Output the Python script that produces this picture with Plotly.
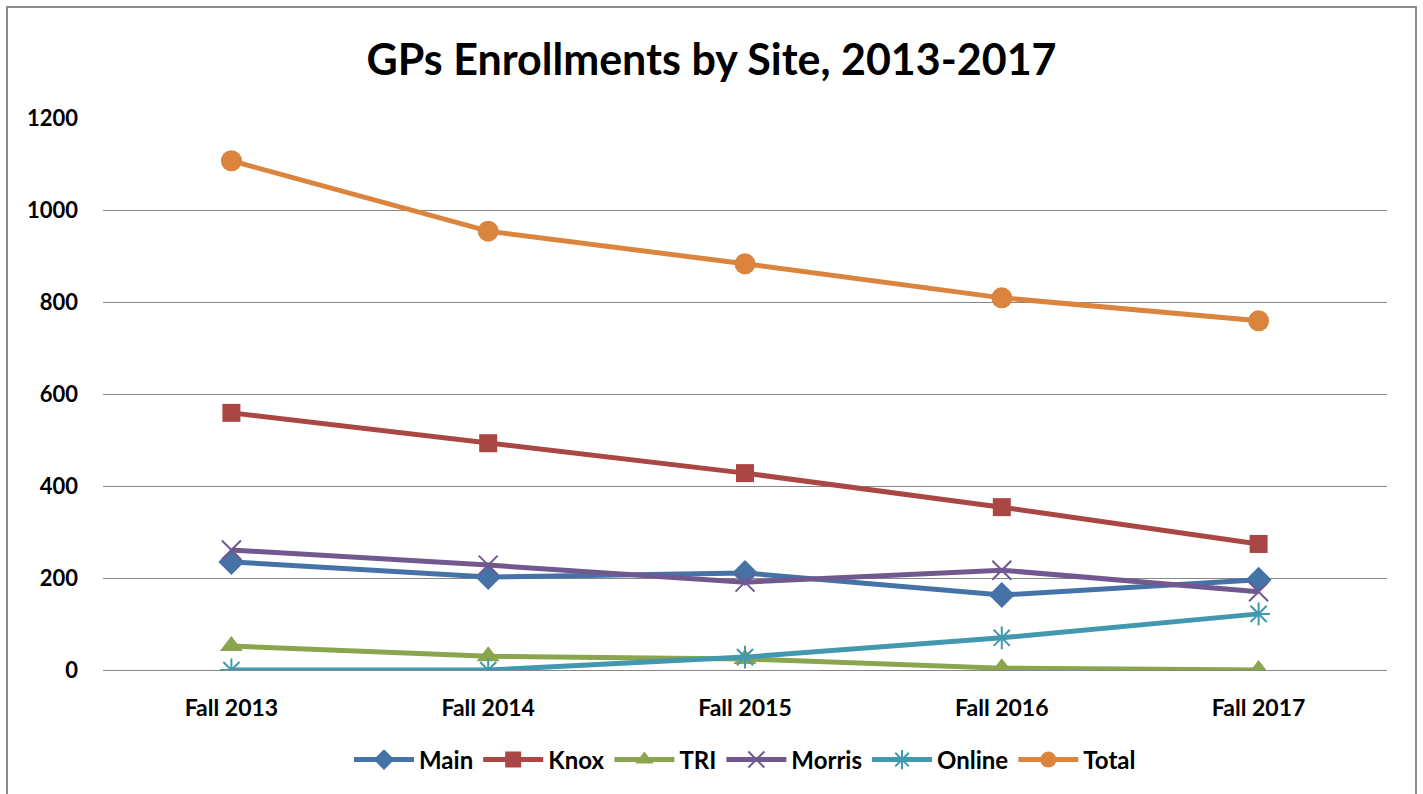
import plotly.graph_objects as go

categories = ["Fall 2013", "Fall 2014", "Fall 2015", "Fall 2016", "Fall 2017"]
main = [235, 202, 211, 163, 196]
knox = [559, 493, 428, 354, 274]
tri = [52, 30, 24, 4, 0]
morris = [261, 228, 191, 217, 170]
online = [0, 0, 28, 70, 122]
total = [1107, 954, 883, 809, 759]
y_ticks = [0, 200, 400, 600, 800, 1000, 1200]

FONT = "Lato"

series = [
    ("Main", main, "#4572A7", dict(symbol="diamond", size=20)),
    ("Knox", knox, "#AA4643", dict(symbol="square", size=18)),
    ("TRI", tri, "#89A54E", dict(symbol="triangle-up", size=20)),
    ("Morris", morris, "#71588F", dict(symbol="x-thin-open", size=19, line=dict(width=2, color="#71588F"))),
    ("Online", online, "#4198AF", dict(symbol="asterisk-open", size=19, line=dict(width=2, color="#4198AF"))),
    ("Total", total, "#DB843D", dict(symbol="circle", size=21)),
]

fig = go.Figure()
for name, vals, color, mk in series:
    m = dict(color=color)
    m.update(mk)
    fig.add_trace(go.Scatter(
        x=categories, y=vals, name=name, mode="lines+markers",
        line=dict(color=color, width=5), marker=m,
    ))

bold = lambda s: dict(family=FONT, size=s, color="black", weight="bold")

fig.update_layout(
    width=1423, height=794,
    paper_bgcolor="white", plot_bgcolor="white",
    margin=dict(l=103, r=36, t=118, b=124),
    title=dict(text="GPs Enrollments by Site, 2013-2017", x=0.5, xanchor="center",
               y=0.925, yanchor="middle", font=bold(43)),
    font=dict(family=FONT, color="black"),
    showlegend=True,
    legend=dict(orientation="h", x=0.5, xanchor="center", y=-0.163, yanchor="middle",
                font=bold(24), itemwidth=60, traceorder="normal"),
    xaxis=dict(type="category", range=[-0.5, 4.5], showgrid=False, showline=False,
               zeroline=False, ticks="", tickfont=bold(23), ticklabelstandoff=22),
    yaxis=dict(range=[0, 1200], tickvals=y_ticks, showgrid=True, gridcolor="#868686",
               gridwidth=1.3, zeroline=True, zerolinecolor="#868686", zerolinewidth=1.3,
               showline=False, ticks="", tickfont=bold(22), ticklabelstandoff=24),
    shapes=[dict(type="rect", xref="paper", yref="paper",
                 x0=(7 - 103) / 1284, x1=(1416 - 103) / 1284,
                 y0=(670 - 805) / 552, y1=(670 - 7) / 552,
                 line=dict(color="#8c8c8c", width=2), fillcolor="rgba(0,0,0,0)", layer="below")],
)

fig.write_html("out.html", config={"displayModeBar": False})

with open("out.html", "r", encoding="utf-8") as f:
    html = f.read()
html = html.replace("<head>", "<head><style>html,body{margin:0;padding:0;overflow:hidden;}</style>", 1)
with open("out.html", "w", encoding="utf-8") as f:
    f.write(html)
